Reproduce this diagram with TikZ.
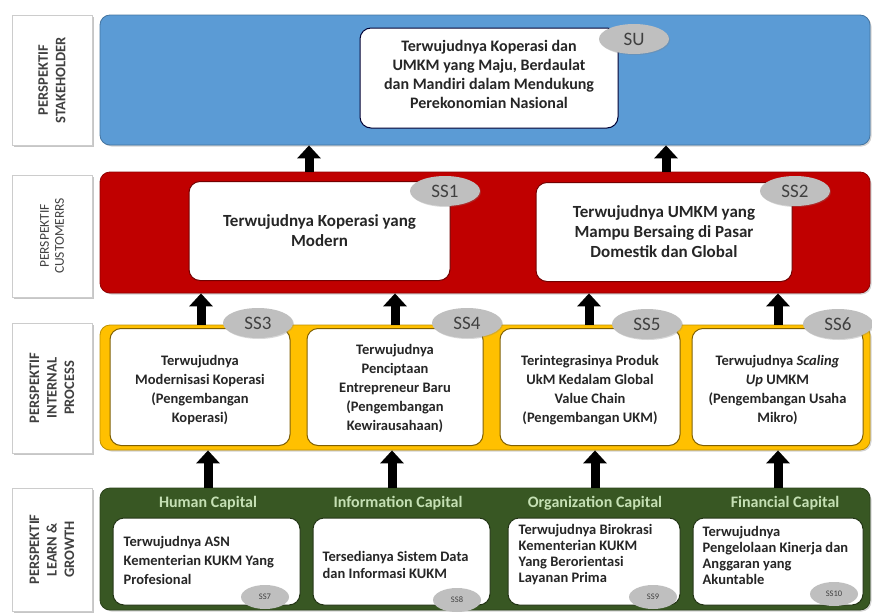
\documentclass[tikz,border=0pt]{standalone}
\usepackage{fontspec}
\setmainfont{Carlito}
\usetikzlibrary{shadows,arrows.meta,calc,shapes.geometric}
\definecolor{bandblue}{HTML}{5B9BD5}
\definecolor{bandred}{HTML}{C00000}
\definecolor{bandgold}{HTML}{FFC000}
\definecolor{bandgreen}{HTML}{385723}
\definecolor{hdrgreen}{HTML}{C5E0B4}
\definecolor{ovalgrey}{HTML}{BFBFBF}
\definecolor{ovaltext}{HTML}{404040}
\definecolor{labtext}{HTML}{404040}
\begin{document}
\begin{tikzpicture}[x=1pt,y=-1pt,
  shade/.style={drop shadow={shadow xshift=1.5pt,shadow yshift=-1.5pt,opacity=0.35}},
  band/.style={rounded corners=10pt,draw=#1!75!black,line width=0.8pt,fill=#1,shade},
  lab/.style={draw=gray!40,fill=white,rotate=90,align=center,inner sep=0pt,
    font=\bfseries\fontsize{14.5}{17.5}\selectfont,text=labtext,
    drop shadow={shadow xshift=2pt,shadow yshift=-2pt,opacity=0.45}},
  wbox/.style={rounded corners=11pt,fill=white,draw=#1,line width=1pt,align=center,text=black!85},
  oval/.style={ellipse,fill=ovalgrey,text=ovaltext,inner sep=0pt,minimum width=70pt,minimum height=30pt,
    font=\fontsize{19}{21}\selectfont,drop shadow={shadow xshift=1pt,shadow yshift=-1pt,opacity=0.3}},
  smoval/.style={ellipse,fill=ovalgrey,text=ovaltext,inner sep=0pt,minimum width=48pt,minimum height=24pt,
    font=\fontsize{8.5}{10}\selectfont},
  barrow/.style={line width=9pt,-{Triangle[width=23pt,length=13pt]},black},
  hdr/.style={text=hdrgreen,font=\bfseries\fontsize{16}{18}\selectfont},
  iptext/.style={align=center,inner sep=0pt,text=black!85,font=\bfseries\fontsize{14.5}{19}\selectfont},
  lgtext/.style={anchor=west,align=left,inner sep=0pt,text=black!85,font=\bfseries\fontsize{14.5}{#1}\selectfont}
]
\useasboundingbox (0,0) rectangle (872,613);

% left labels
\node[lab,minimum width=130pt,minimum height=80pt] (l1) at (52,80) {PERSPEKTIF\\STAKEHOLDER};
\node[lab,minimum width=122pt,minimum height=80pt,font=\fontsize{13.5}{15}\selectfont] (l2) at (52,236) {PERSPEKTIF\\CUSTOMERRS};
\node[lab,minimum width=130pt,minimum height=80pt] (l3) at (52,388) {PERSPEKTIF\\INTERNAL\\PROCESS};
\node[lab,minimum width=123pt,minimum height=80pt] (l4) at (52,549.5) {PERSPEKTIF\\LEARN \&\\GROWTH};

% bands
\node[band=bandblue,minimum width=770pt,minimum height=130pt] (blue) at (485,80) {};
\node[band=bandred,minimum width=770pt,minimum height=121pt] (red) at (485,232.5) {};
\node[band=bandgold,minimum width=770pt,minimum height=125pt] (gold) at (485,387.5) {};
\node[band=bandgreen,minimum width=770pt,minimum height=122pt] (green) at (485,549) {};

% stakeholder
\node[wbox=black!80!blue,minimum width=258pt,minimum height=100pt] (su) at (489,78) {};
\node[align=center,text=black!85,font=\bfseries\fontsize{16}{19}\selectfont] (sut) at ($(su.center)+(0,-4)$)
  {Terwujudnya Koperasi dan\\UMKM yang Maju, Berdaulat\\dan Mandiri dalam Mendukung\\Perekonomian Nasional};
\node[oval] (suo) at (634,39) {SU};

% customers
\tikzset{cbox/.style={wbox=bandred!60!black,minimum height=99pt,font=\bfseries\fontsize{17}{20}\selectfont}}
\node[cbox,minimum width=261pt] (ss1) at (319.5,231)
  {Terwujudnya Koperasi yang\\Modern};
\node[oval] (ss1o) at (445,191) {SS1};
\node[cbox,minimum width=256pt] (ss2) at (664,232)
  {Terwujudnya UMKM yang\\Mampu Bersaing di Pasar\\Domestik dan Global};
\node[oval] (ss2o) at (795,191) {SS2};

% internal process
\tikzset{ipbox/.style={wbox=bandgold!50!black,minimum height=117pt,minimum width=#1}}
\node[ipbox=180pt] (ss3) at (200,387) {};
\node[ipbox=176pt] (ss4) at (395,387) {};
\node[ipbox=180pt] (ss5) at (590,387) {};
\node[ipbox=171pt] (ss6) at (777.5,387) {};
\node[iptext] (t3) at ($(ss3.center)+(0,3)$) {Terwujudnya\\Modernisasi Koperasi\\(Pengembangan\\Koperasi)};
\node[iptext] (t4) at ($(ss4.center)+(0,2)$) {Terwujudnya\\Penciptaan\\Entrepreneur Baru\\(Pengembangan\\Kewirausahaan)};
\node[iptext] (t5) at ($(ss5.center)+(0,3)$) {Terintegrasinya Produk\\UkM Kedalam Global\\Value Chain\\(Pengembangan UKM)};
\node[iptext] (t6) at ($(ss6.center)+(0,3)$) {Terwujudnya \textit{Scaling}\\\textit{Up} UMKM\\(Pengembangan Usaha\\Mikro)};
\node[oval] (ss3o) at (258,323) {SS3};
\node[oval] (ss4o) at (467,323) {SS4};
\node[oval] (ss5o) at (647,324) {SS5};
\node[oval] (ss6o) at (838,324) {SS6};

% learn and growth
\node[hdr] (h1) at (208,503) {Human Capital};
\node[hdr] (h2) at (398,503) {Information Capital};
\node[hdr] (h3) at (595,503) {Organization Capital};
\node[hdr] (h4) at (785,503) {Financial Capital};
\tikzset{lgbox/.style={wbox=bandgreen!60!black,minimum height=87pt,minimum width=#1}}
\node[lgbox=187pt] (ss7) at (206.5,561.5) {};
\node[lgbox=177pt] (ss8) at (401.5,561.5) {};
\node[lgbox=172pt] (ss9) at (594,561.5) {};
\node[lgbox=170pt] (ss10) at (778,561.5) {};
\node[lgtext=19] (t7) at ($(ss7.west)+(11,-1.5)$) {Terwujudnya ASN\\Kementerian KUKM Yang\\Profesional};
\node[lgtext=17.5] (t8) at ($(ss8.west)+(10,3.5)$) {Tersedianya Sistem Data\\dan Informasi KUKM};
\node[lgtext=16] (t9) at ($(ss9.west)+(11,-7)$) {Terwujudnya Birokrasi\\Kementerian KUKM\\Yang Berorientasi\\Layanan Prima};
\node[lgtext=16] (t10) at ($(ss10.west)+(10,-6.5)$) {Terwujudnya\\Pengelolaan Kinerja dan\\Anggaran yang\\Akuntable};
\node[smoval] (ss7o) at (265,597) {SS7};
\node[smoval] (ss8o) at (457,600) {SS8};
\node[smoval] (ss9o) at (653,597) {SS9};
\node[smoval] (ss10o) at (834,594) {SS10};

% arrow positions
\coordinate (a1) at (309,0);
\coordinate (a2) at (666,0);
\coordinate (b1) at (201,0);
\coordinate (b2) at (395,0);
\coordinate (b3) at (589,0);
\coordinate (b4) at (778,0);
\coordinate (c1) at (208,0);
\coordinate (c2) at (392,0);
\coordinate (c3) at (595,0);
\coordinate (c4) at (778,0);

\draw[barrow] (red.north -| a1) -- (blue.south -| a1);
\draw[barrow] (red.north -| a2) -- (blue.south -| a2);
\foreach \p in {b1,b2,b3,b4}
  \draw[barrow] (gold.north -| \p) -- (red.south -| \p);
\foreach \p in {c1,c2,c3,c4}
  \draw[barrow] (green.north -| \p) -- (gold.south -| \p);
\end{tikzpicture}
\end{document}
